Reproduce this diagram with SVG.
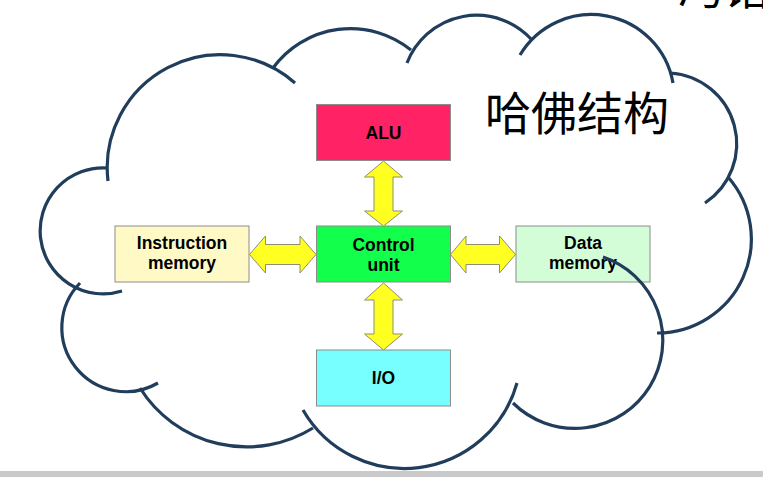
<svg xmlns="http://www.w3.org/2000/svg" width="763" height="477" viewBox="0 0 763 477">
<style>
.box{stroke:#8c8c8c;stroke-width:1}
.lbl{font-family:"Liberation Sans",Arial,sans-serif;font-weight:bold;font-size:17.5px;fill:#000;text-anchor:middle}
.arr{fill:#ffff22;stroke:#8f8f70;stroke-width:1;stroke-linejoin:miter}
.lobe{fill:none;stroke:#203d5c;stroke-width:3.2;stroke-linecap:butt}
.cjk{font-family:"Noto Sans CJK SC","Noto Sans CJK JP",sans-serif;font-size:46px;fill:#000}
</style>
<rect x="0" y="0" width="763" height="477" fill="#ffffff"/>
<text class="cjk" x="678" y="4">冯诺</text>
<text class="cjk" x="485" y="130">哈佛结构</text>
<g id="alu"><rect class="box" x="316.5" y="104.5" width="134" height="56" fill="#ff2366"/><text class="lbl" x="383.5" y="139">ALU</text></g>
<g id="control-unit"><rect class="box" x="316.5" y="226" width="134" height="56" fill="#12ff4c"/><text class="lbl" x="383.5" y="251">Control</text><text class="lbl" x="383.5" y="271">unit</text></g>
<g id="instruction-memory"><rect class="box" x="115" y="226" width="134" height="56" fill="#fff9c6"/><text class="lbl" x="182" y="249">Instruction</text><text class="lbl" x="182" y="269">memory</text></g>
<g id="data-memory"><rect class="box" x="516" y="226" width="134" height="56" fill="#d3fdd7"/><text class="lbl" x="583" y="249">Data</text><text class="lbl" x="583" y="269">memory</text></g>
<g id="io"><rect class="box" x="316.5" y="350" width="134" height="56" fill="#77ffff"/><text class="lbl" x="383.5" y="384">I/O</text></g>
<g id="connectors">
<polygon class="arr" points="383.5,161 402.5,177 393,177 393,211 402.5,211 383.5,226 364.5,211 374,211 374,177 364.5,177"/>
<polygon class="arr" points="383.5,283 402.5,300 393,300 393,334 402.5,334 383.5,350 364.5,334 374,334 374,300 364.5,300"/>
<polygon class="arr" points="249.5,254.5 265.5,236 265.5,244.5 300,244.5 300,236 316,254.5 300,273 300,264.5 265.5,264.5 265.5,273"/>
<polygon class="arr" points="450.5,254.5 466,236 466,244.5 499.5,244.5 499.5,236 515.5,254.5 499.5,273 499.5,264.5 466,264.5 466,273"/>
</g>
<g id="cloud">
<path class="lobe" d="M107,168 A63,63 0 1 0 122,291"/>
<path class="lobe" d="M80,283 A64,64 0 0 0 158,383"/>
<path class="lobe" d="M140,388 A126,126 0 0 0 313,428"/>
<path class="lobe" d="M303,410 A117,117 0 0 0 517,383"/>
<path class="lobe" d="M513,403 A88,88 0 1 0 603,257"/>
<path class="lobe" d="M657,333 A94,94 0 0 0 728,177"/>
<path class="lobe" d="M705,203 A71,71 0 0 0 670,73"/>
<path class="lobe" d="M673,83 A83,83 0 0 0 520,55"/>
<path class="lobe" d="M532,40 A74.5,74.5 0 0 0 407,63"/>
<path class="lobe" d="M411,50 A96,96 0 0 0 273,68"/>
<path class="lobe" d="M295,83 A113,113 0 0 0 108,181"/>
</g>
<rect x="0" y="471" width="763" height="6" fill="#cacaca"/>
</svg>
